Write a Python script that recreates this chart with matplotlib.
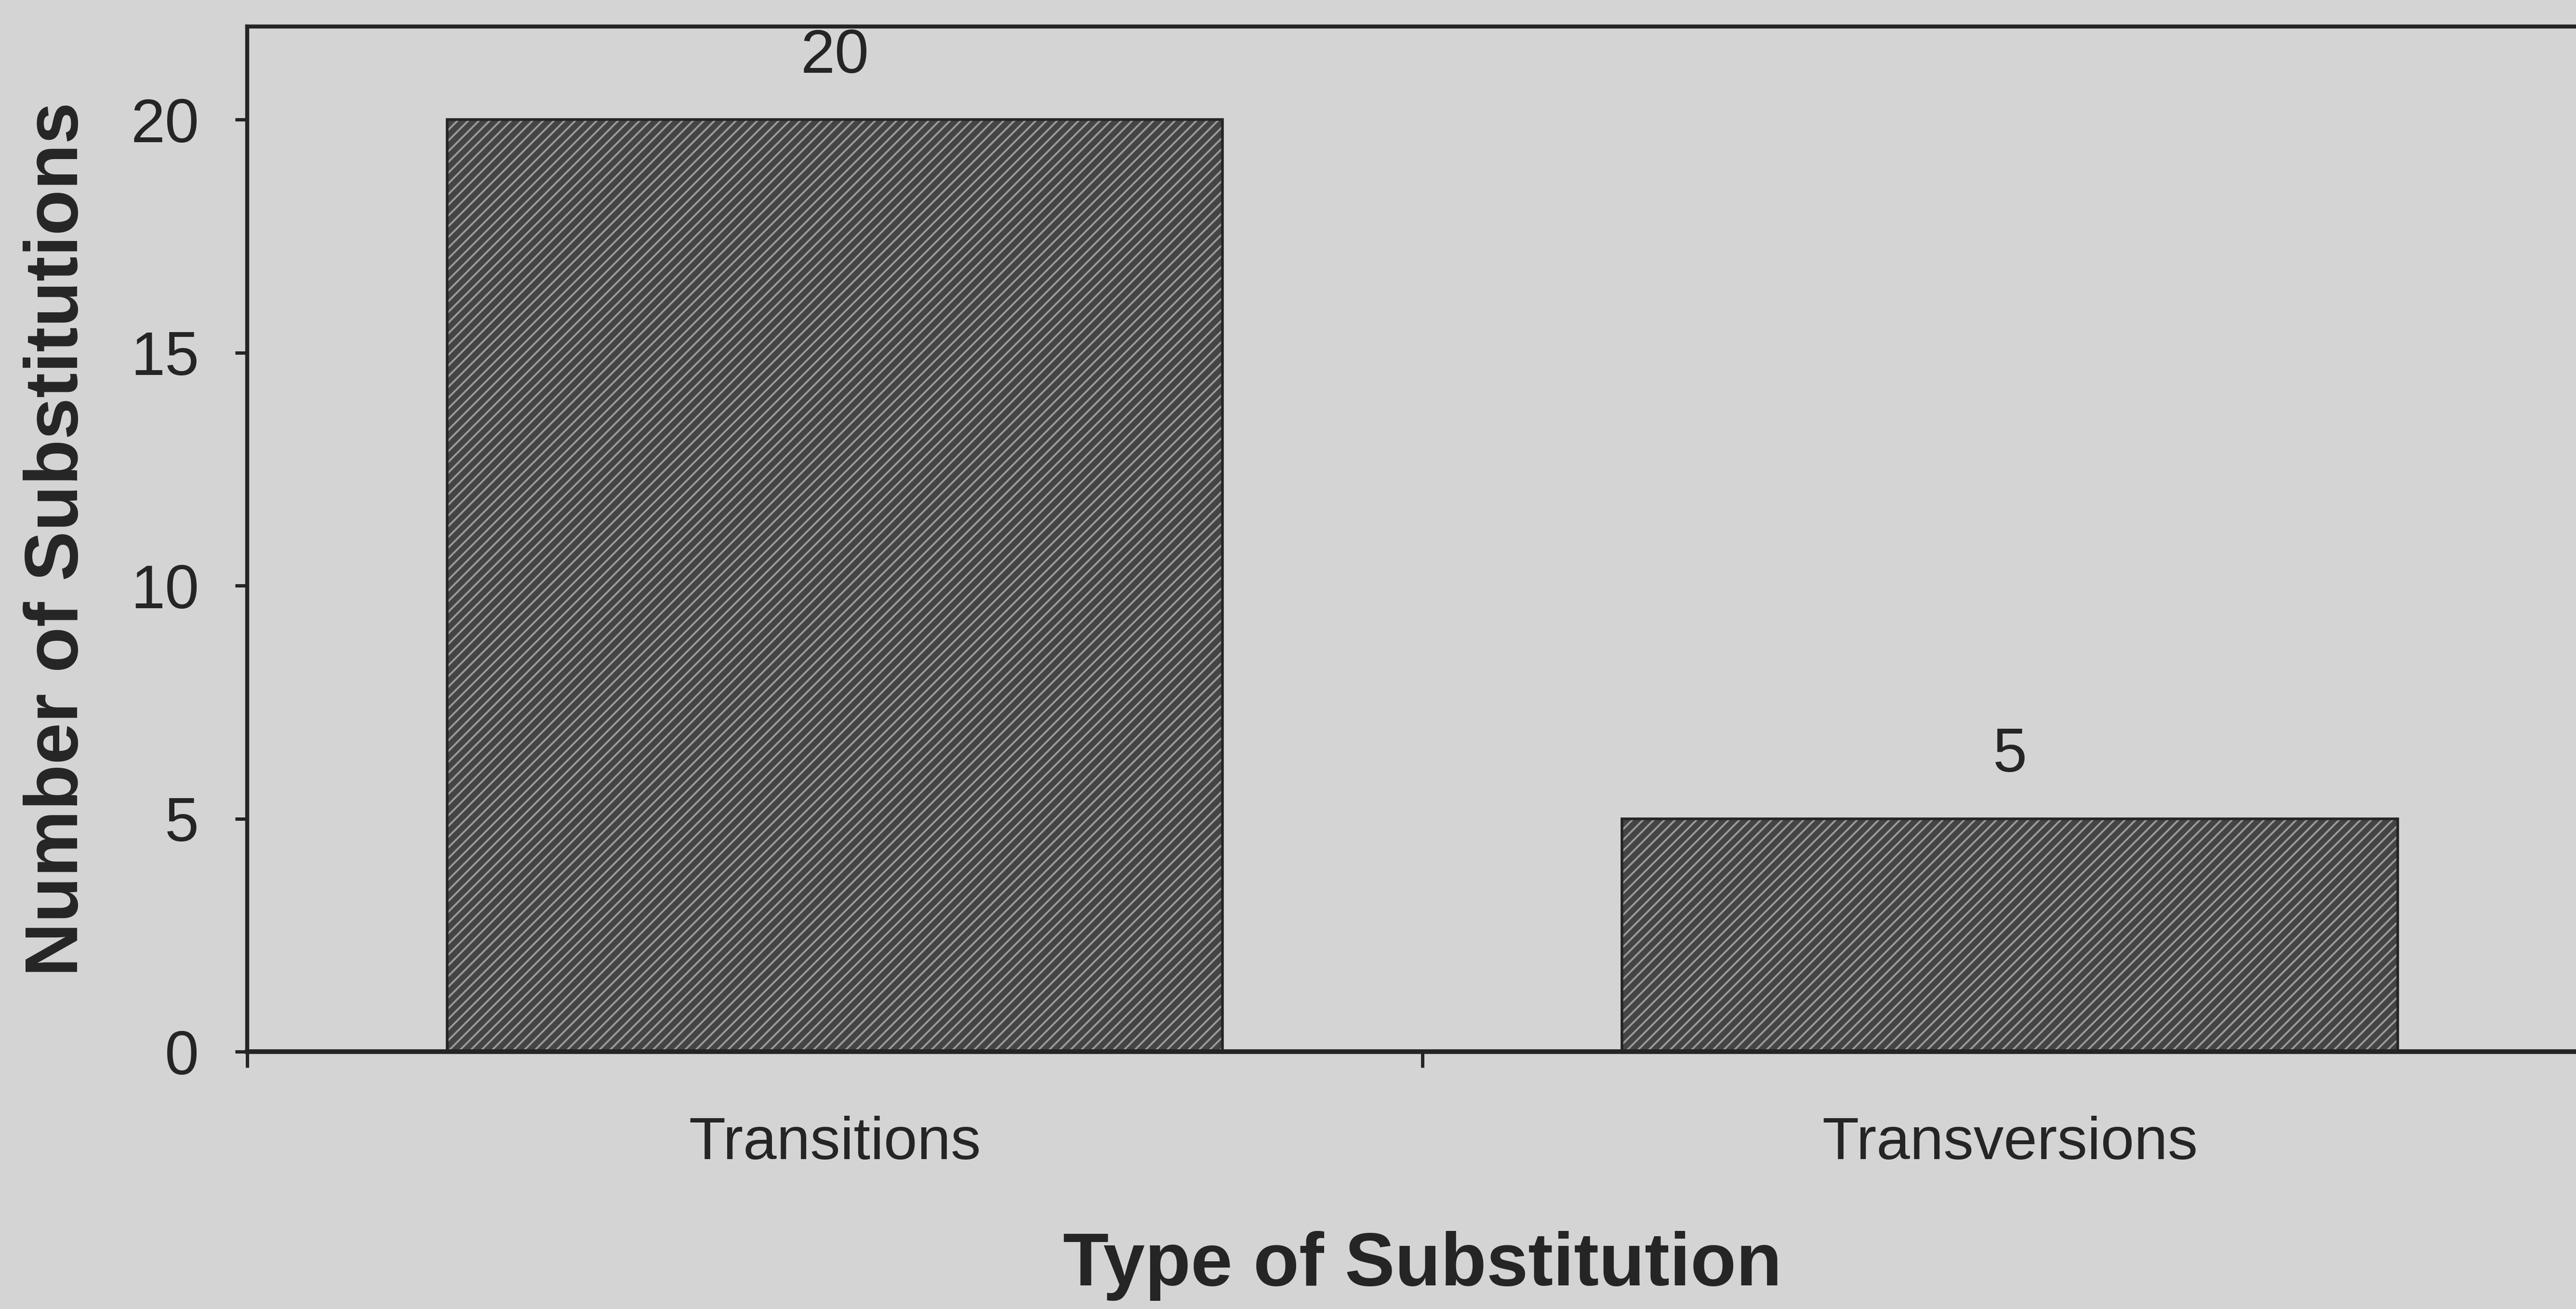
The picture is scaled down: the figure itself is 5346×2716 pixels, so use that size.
import matplotlib
matplotlib.use("Agg")
import matplotlib.pyplot as plt
from matplotlib.ticker import FixedLocator

# Counts of nucleotide substitutions by type
categories = ["Transitions", "Transversions"]
counts = [20, 5]
y_ticks = [0, 5, 10, 15, 20]
category_edges = [-0.5, 0.5, 1.5]

plt.rcParams['font.family'] = ['Liberation Sans', 'DejaVu Sans']
plt.rcParams['hatch.linewidth'] = 1.4

paper = '#d4d4d4'
ink = '#252525'
bar_base = '#444444'
bar_stripe = '#9a9a9a'

fig = plt.figure(figsize=(26.73, 13.58), dpi=200, facecolor=paper)
ax = fig.add_axes([0.096, 0.1966, 0.9123, 0.7831], facecolor=paper)

positions = list(range(len(categories)))

# Hatched fill, then a dark outline on top
ax.bar(positions, counts, width=0.66, color=bar_base, edgecolor=bar_stripe,
       linewidth=0, hatch='///', zorder=2)
ax.bar(positions, counts, width=0.66, fill=False, edgecolor=ink,
       linewidth=2.0, zorder=3)

# Value labels above each bar
for xpos, val in zip(positions, counts):
    ax.annotate(f"{val}", xy=(xpos, val), xytext=(0, 35),
                textcoords='offset points', ha='center', va='baseline',
                fontsize=46, color=ink)

ax.set_xlim(-0.5, 1.5)
ax.set_ylim(0, 22)
ax.set_yticks(y_ticks)
ax.set_xticks(positions)
ax.set_xticklabels(categories)
ax.xaxis.set_minor_locator(FixedLocator(category_edges))

ax.tick_params(axis='x', which='major', length=0, pad=48, labelsize=45,
               labelcolor=ink)
ax.tick_params(axis='x', which='minor', length=12, width=2.5,
               direction='out', color=ink)
ax.tick_params(axis='y', which='major', length=9, width=2.5,
               direction='out', color=ink, pad=27, labelsize=46,
               labelcolor=ink)

for side in ['left', 'top', 'right']:
    ax.spines[side].set_linewidth(3.0)
    ax.spines[side].set_color(ink)
ax.spines['bottom'].set_linewidth(3.5)
ax.spines['bottom'].set_color(ink)

ax.set_xlabel("Type of Substitution", fontsize=56, fontweight='bold',
              color=ink, labelpad=44)
ax.set_ylabel("Number of Substitutions", fontsize=56, fontweight='bold',
              color=ink, labelpad=28)

fig.savefig("out.png", dpi=200, facecolor=paper)
